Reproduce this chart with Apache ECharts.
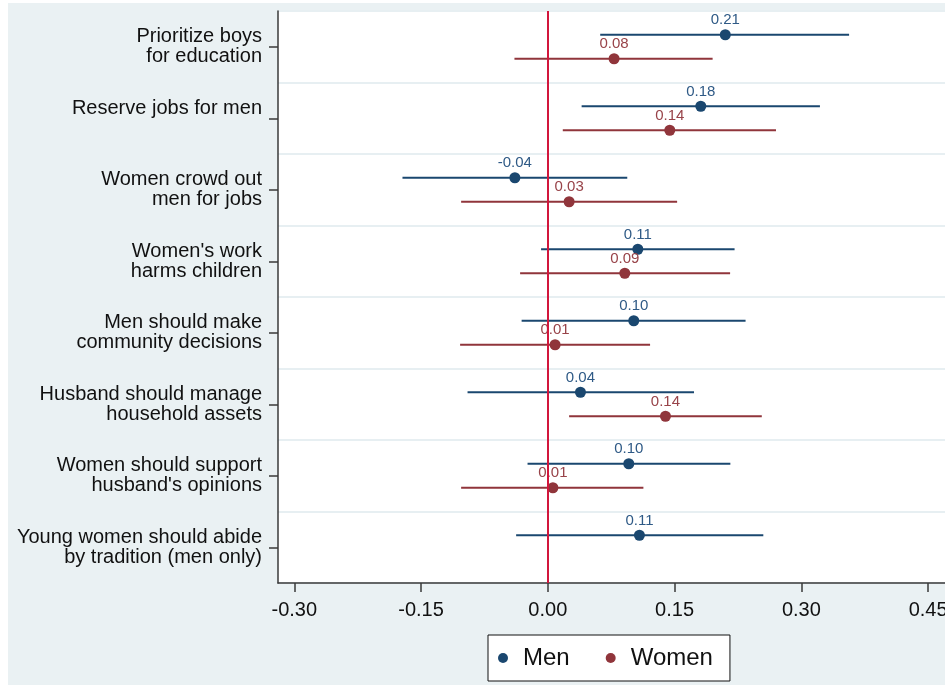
<!DOCTYPE html>
<html>
<head>
<meta charset="utf-8">
<script src="https://cdn.jsdelivr.net/npm/echarts@6/dist/echarts.min.js"></script>
<style>
  html, body { margin: 0; padding: 0; background: #ffffff; overflow: hidden; }
  #bg { position: absolute; left: 8px; top: 3px; width: 937px; height: 682px; background: #eaf1f3; }
  #chart { position: absolute; left: 0; top: 0; width: 945px; height: 685px; }
</style>
</head>
<body>
<div id="bg"></div>
<div id="chart"></div>
<script>
// ---- data ----
const categories = [
  'Prioritize boys\nfor education',
  'Reserve jobs for men',
  'Women crowd out\nmen for jobs',
  "Women's work\nharms children",
  'Men should make\ncommunity decisions',
  'Husband should manage\nhousehold assets',
  "Women should support\nhusband's opinions",
  'Young women should abide\nby tradition (men only)'
];
const menEst = [0.210, 0.181, -0.039, 0.1065, 0.1017, 0.0386, 0.0958, 0.1084];
const menLo  = [0.062, 0.040, -0.172, -0.008, -0.031, -0.095, -0.024, -0.0375];
const menHi  = [0.3565, 0.322, 0.094, 0.221, 0.234, 0.173, 0.216, 0.255];
const womenEst = [0.0784, 0.1443, 0.0252, 0.0911, 0.0086, 0.1392, 0.006, null];
const womenLo  = [-0.0395, 0.0177, -0.1026, -0.0328, -0.1038, 0.0252, -0.1026, null];
const womenHi  = [0.195, 0.270, 0.153, 0.2157, 0.121, 0.2532, 0.1131, null];
const xTicks = [-0.30, -0.15, 0.00, 0.15, 0.30, 0.45];
const seriesNames = ['Men', 'Women'];

const FONT = '"Liberation Sans", Arial, Helvetica, sans-serif';
const MEN_COLOR = '#1a476f';
const WOMEN_COLOR = '#90353b';

function buildData(est, lo, hi) {
  const out = [];
  for (let i = 0; i < est.length; i++) {
    if (est[i] === null) continue;
    out.push([i, est[i], lo[i], hi[i]]);
  }
  return out;
}

function makeRender(color, labelColor, offFrac) {
  return function (params, api) {
    const cat = api.value(0);
    const est = api.value(1);
    const lo = api.value(2);
    const hi = api.value(3);
    const band = api.size([0, 1])[1];
    const dy = offFrac * band;
    const p = api.coord([est, cat]);
    const pl = api.coord([lo, cat]);
    const ph = api.coord([hi, cat]);
    const y = p[1] + dy;
    return {
      type: 'group',
      children: [
        { type: 'line', shape: { x1: pl[0], y1: y, x2: ph[0], y2: y },
          style: { stroke: color, lineWidth: 2 } },
        { type: 'circle', shape: { cx: p[0], cy: y, r: 5.5 },
          style: { fill: color } },
        { type: 'text', style: { text: est.toFixed(2), x: p[0], y: y - 7,
          align: 'center', verticalAlign: 'bottom', fill: labelColor,
          font: '15px ' + FONT } }
      ]
    };
  };
}

const chart = echarts.init(document.getElementById('chart'), null, { renderer: 'canvas' });
chart.setOption({
  backgroundColor: 'transparent',
  animation: false,
  textStyle: { fontFamily: FONT },
  grid: { left: 278, right: 0, top: 11, bottom: 102, show: true,
          backgroundColor: '#ffffff', borderWidth: 0,
          containLabel: false, outerBoundsMode: 'none' },
  legend: {
    data: [{ name: seriesNames[0], icon: 'circle' }, { name: seriesNames[1], icon: 'circle' }],
    left: 488, top: 635,
    itemWidth: 10, itemHeight: 10, itemGap: 36,
    padding: [11, 17, 11, 10],
    backgroundColor: '#ffffff', borderColor: '#111111', borderWidth: 1,
    textStyle: { fontSize: 24, color: '#111111', fontFamily: FONT, padding: [0, 0, 0, 10] }
  },
  xAxis: {
    type: 'value', min: -0.3193, max: 0.47,
    axisLine: { show: true, onZero: false, lineStyle: { color: '#3a3a3a', width: 1.5 } },
    axisTick: { show: true, length: 9, customValues: xTicks, lineStyle: { color: '#3a3a3a', width: 1.5 } },
    axisLabel: { customValues: xTicks, formatter: v => v.toFixed(2), fontSize: 20, margin: 17,
                 color: '#111111', fontFamily: FONT },
    splitLine: { show: false }
  },
  yAxis: {
    type: 'category', data: categories, inverse: true, boundaryGap: true,
    axisLine: { show: true, onZero: false, lineStyle: { color: '#3a3a3a', width: 1.5 } },
    axisTick: { show: true, alignWithLabel: true, length: 9, interval: 0,
                lineStyle: { color: '#3a3a3a', width: 1.5 } },
    axisLabel: { interval: 0, fontSize: 20, lineHeight: 20, margin: 16, color: '#111111',
                 fontFamily: FONT, align: 'right',
                 formatter: v => (v.indexOf('\n') >= 0 ? v : v + '\n ') },
    splitLine: { show: true, interval: 0, lineStyle: { color: '#e7eff2', width: 2 } }
  },
  series: [
    { name: seriesNames[0], type: 'custom', color: MEN_COLOR, itemStyle: { color: MEN_COLOR },
      encode: { x: [1, 2, 3], y: 0 },
      renderItem: makeRender(MEN_COLOR, '#2f5a86', -0.168),
      data: buildData(menEst, menLo, menHi), z: 3 },
    { name: seriesNames[1], type: 'custom', color: WOMEN_COLOR, itemStyle: { color: WOMEN_COLOR },
      encode: { x: [1, 2, 3], y: 0 },
      renderItem: makeRender(WOMEN_COLOR, '#984349', 0.168),
      data: buildData(womenEst, womenLo, womenHi), z: 3 },
    { name: 'zero', type: 'line', data: [], z: 10,
      markLine: { silent: true, symbol: ['none', 'none'], animation: false,
        label: { show: false },
        lineStyle: { color: '#d2163c', width: 2, type: 'solid' },
        data: [{ xAxis: 0 }] } }
  ]
});
</script>
</body>
</html>
